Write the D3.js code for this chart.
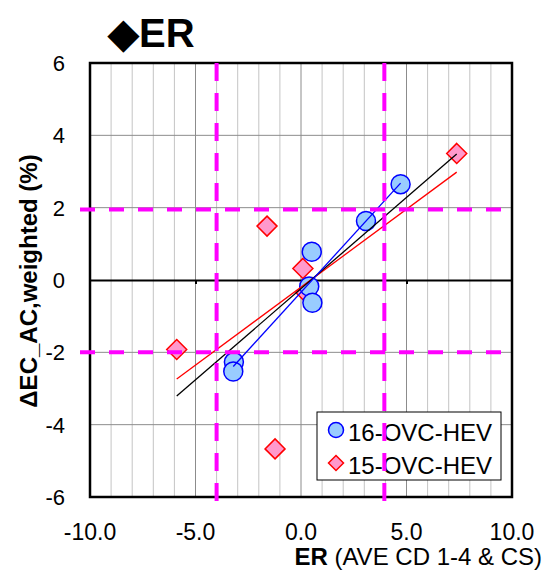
<!DOCTYPE html>
<html>
<head>
<meta charset="utf-8">
<script src="https://cdn.jsdelivr.net/npm/d3@7/dist/d3.min.js"></script>
<style>
  body { margin: 0; background: #fff; }
  text { font-family: Arial, "Liberation Sans", sans-serif; }
</style>
</head>
<body>
<script>
// values
var xTicks = [-10, -5, 0, 5, 10];
var yTicks = [-6, -4, -2, 0, 2, 4, 6];

var hev16X = [4.72, 3.08, 0.51, 0.39, 0.54, -3.18, -3.21];
var hev16Y = [2.65, 1.63, 0.78, -0.18, -0.63, -2.27, -2.53];

var hev15X = [7.38, -1.61, 0.09, 0.24, -5.89, -1.23];
var hev15Y = [3.50, 1.49, 0.32, -0.35, -1.92, -4.67];

var limitX = [-4, 3.95];
var limitY = [1.95, -2];

var W = 547, H = 570;
var pLeft = 90, pRight = 512, pTop = 63, pBottom = 497;

var x = d3.scaleLinear().domain([-10, 10]).range([pLeft, pRight]);
var y = d3.scaleLinear().domain([-6, 6]).range([pBottom, pTop]);

var svg = d3.select('body').append('svg').attr('width', W).attr('height', H);

// grid
var minor = d3.range(-10, 11, 1).filter(function(v){ return v % 5 !== 0; });
svg.append('g').selectAll('line').data(minor).enter().append('line')
    .attr('x1', function(d){ return x(d); }).attr('x2', function(d){ return x(d); })
    .attr('y1', pTop).attr('y2', pBottom)
    .attr('stroke', '#c4c4c4').attr('stroke-width', 1);
svg.append('g').selectAll('line').data([-5, 0, 5]).enter().append('line')
    .attr('x1', function(d){ return x(d); }).attr('x2', function(d){ return x(d); })
    .attr('y1', pTop).attr('y2', pBottom)
    .attr('stroke', '#8c8c8c').attr('stroke-width', 1);
svg.append('g').selectAll('line').data([-4, -2, 2, 4]).enter().append('line')
    .attr('x1', pLeft).attr('x2', pRight)
    .attr('y1', function(d){ return y(d); }).attr('y2', function(d){ return y(d); })
    .attr('stroke', '#8c8c8c').attr('stroke-width', 1);

// x axis through zero
var xAxis = d3.axisBottom(x).tickValues([-5, 5]).tickSize(4).tickSizeOuter(0).tickFormat('');
var gx = svg.append('g').attr('transform', 'translate(0,' + y(0) + ')').call(xAxis);
gx.select('.domain').attr('stroke', '#000').attr('stroke-width', 2);
gx.selectAll('.tick line').attr('stroke', '#000').attr('stroke-width', 2);

// frame
svg.append('rect').attr('x', pLeft).attr('y', pTop)
    .attr('width', pRight - pLeft).attr('height', pBottom - pTop)
    .attr('fill', 'none').attr('stroke', '#000').attr('stroke-width', 2.5);

// tick labels
svg.append('g').selectAll('text').data(yTicks).enter().append('text')
    .attr('x', 65).attr('y', function(d){ return y(d) + 8; })
    .attr('text-anchor', 'end').attr('font-size', 22)
    .text(function(d){ return d; });
svg.append('g').selectAll('text').data(xTicks).enter().append('text')
    .attr('x', function(d){ return x(d); }).attr('y', 540)
    .attr('text-anchor', 'middle').attr('font-size', 23)
    .text(function(d){ return d.toFixed(1); });

// legend box
var lg = svg.append('g');
lg.append('rect').attr('x', 317).attr('y', 412).attr('width', 184).attr('height', 68)
    .attr('fill', '#fff').attr('stroke', '#000').attr('stroke-width', 1);

var diamond = function(cx, cy, r){
    return 'M' + cx + ',' + (cy - r) + 'L' + (cx + r) + ',' + cy + 'L' + cx + ',' + (cy + r) + 'L' + (cx - r) + ',' + cy + 'Z';
};

// markers
var pts16 = hev16X.map(function(v, i){ return [v, hev16Y[i]]; });
var pts15 = hev15X.map(function(v, i){ return [v, hev15Y[i]]; });

svg.append('g').selectAll('path').data(pts15).enter().append('path')
    .attr('d', function(d){ return diamond(x(d[0]), y(d[1]), 10); })
    .attr('fill', '#ff99cc').attr('stroke', '#ff0000').attr('stroke-width', 1.5);
svg.append('g').selectAll('circle').data(pts16).enter().append('circle')
    .attr('cx', function(d){ return x(d[0]); }).attr('cy', function(d){ return y(d[1]); })
    .attr('r', 9.5)
    .attr('fill', '#99ccff').attr('stroke', '#0000ff').attr('stroke-width', 1.5);

// least squares trend lines
var trend = function(pts){
    var mx = d3.mean(pts, function(d){ return d[0]; });
    var my = d3.mean(pts, function(d){ return d[1]; });
    var sxy = d3.sum(pts, function(d){ return (d[0] - mx) * (d[1] - my); });
    var sxx = d3.sum(pts, function(d){ return (d[0] - mx) * (d[0] - mx); });
    var b = sxy / sxx, a = my - b * mx;
    var ext = d3.extent(pts, function(d){ return d[0]; });
    return ext.map(function(v){ return [v, a + b * v]; });
};
var line = d3.line().x(function(d){ return x(d[0]); }).y(function(d){ return y(d[1]); });

svg.append('path').attr('d', line(trend(pts15))).attr('fill', 'none').attr('stroke', '#ff0000').attr('stroke-width', 1.3);
svg.append('path').attr('d', line(trend(pts16.concat(pts15)))).attr('fill', 'none').attr('stroke', '#000').attr('stroke-width', 1.3);
svg.append('path').attr('d', line(trend(pts16))).attr('fill', 'none').attr('stroke', '#0000ff').attr('stroke-width', 1.3);

// legend entries
lg = svg.append('g');
lg.append('circle').attr('cx', 336).attr('cy', 430).attr('r', 7.5)
    .attr('fill', '#99ccff').attr('stroke', '#0000ff').attr('stroke-width', 1.5);
lg.append('path').attr('d', diamond(336, 463, 7.5))
    .attr('fill', '#ff99cc').attr('stroke', '#ff0000').attr('stroke-width', 1.5);
lg.append('text').attr('x', 348).attr('y', 441).attr('font-size', 24).text('16-OVC-HEV');
lg.append('text').attr('x', 348).attr('y', 474).attr('font-size', 24).text('15-OVC-HEV');

// threshold lines
svg.append('g').selectAll('line').data(limitY).enter().append('line')
    .attr('x1', 80).attr('x2', 503)
    .attr('y1', function(d){ return y(d); }).attr('y2', function(d){ return y(d); })
    .attr('stroke', '#ff00ff').attr('stroke-width', 4).attr('stroke-dasharray', '15,14');
svg.append('g').selectAll('line').data(limitX).enter().append('line')
    .attr('x1', function(d){ return x(d); }).attr('x2', function(d){ return x(d); })
    .attr('y1', pTop).attr('y2', 508)
    .attr('stroke', '#ff00ff').attr('stroke-width', 4).attr('stroke-dasharray', '18,12');

// titles
svg.append('text').attr('x', 108).attr('y', 47).attr('font-size', 40).attr('font-weight', 'bold')
    .text('\u25C6ER');

var xt = svg.append('text').attr('x', 542).attr('y', 565).attr('text-anchor', 'end').attr('font-size', 24);
xt.append('tspan').attr('font-weight', 'bold').text('ER');
xt.append('tspan').text(' (AVE CD 1-4 & CS)');

svg.append('text').attr('transform', 'translate(37,281) rotate(-90)')
    .attr('text-anchor', 'middle').attr('font-size', 24).attr('font-weight', 'bold')
    .text('\u0394EC_AC,weighted (%)');
</script>
</body>
</html>
